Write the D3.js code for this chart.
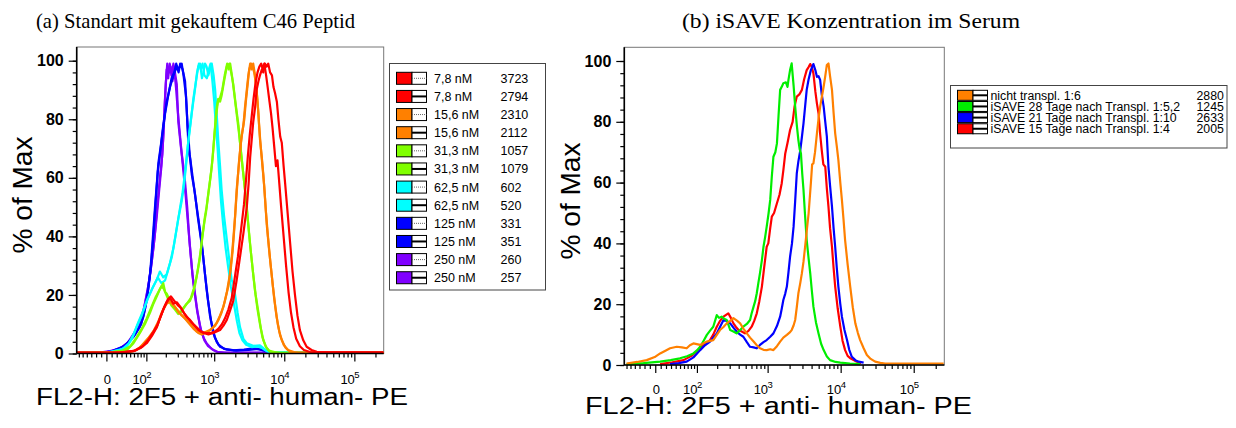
<!DOCTYPE html>
<html lang="en">
<head>
<meta charset="utf-8">
<title>FL2-H Histogramme</title>
<script src="https://cdn.jsdelivr.net/npm/d3@7"></script>
<style>
body { margin: 0; background: white; }
svg text { font-family: Arial, "Liberation Sans", sans-serif; fill: black; }
svg text.title { font-family: "Liberation Serif", "DejaVu Serif", serif; }
</style>
</head>
<body>
<svg id="chart" width="1236" height="428"></svg>
<script>
// ---- data: x in histogram channels (0..1000 over the displayed range), y in % of Max ----
var yTicks = [0, 20, 40, 60, 80, 100];
var xMajor = [0, 100, 1000, 10000, 100000];
var xMajorLabel = ["0", "10", "10", "10", "10"];
var xMajorExp = ["", "2", "3", "4", "5"];
var xMinor = [-60, -50, -40, -30, -20, -10, 10, 20, 30, 40, 50, 60, 70, 80, 90,
  200, 300, 400, 500, 600, 700, 800, 900, 2000, 3000, 4000, 5000, 6000, 7000, 8000, 9000,
  20000, 30000, 40000, 50000, 60000, 70000, 80000, 90000, 200000];

// panel (a)
var namesA = ["7,8 nM", "7,8 nM", "15,6 nM", "15,6 nM", "31,3 nM", "31,3 nM",
  "62,5 nM", "62,5 nM", "125 nM", "125 nM", "250 nM", "250 nM"];
var mediansA = [3723, 2794, 2310, 2112, 1057, 1079, 602, 520, 331, 351, 260, 257];

var red78a = [[0,0.3],[140,0.4],[185,0.8],[210,2],[228,3.5],[245,6],[261,9],[271,12],[282,15],[293,17.5],[304,19],[315,17],[326,17.5],[337,16],[348,14],[358,12.5],[369,11.5],[380,10],[396,8],[413,7],[429,6.5],[445,7],[456,7.5],[467,8],[478,9.5],[489,11.5],[499,14.5],[510,18],[521,25],[532,33],[543,41],[554,50],[560,58],[565,67],[570,73],[575,79],[581,84],[586,90],[592,93],[597,95],[603,97],[608,96],[613,99],[619,98],[624,99],[630,96],[636,95],[641,91],[646,89],[652,86],[657,80],[663,74],[668,72],[674,64],[679,58],[687,48],[695,38],[703,28],[711,20],[719,13],[727,8],[738,4.5],[749,2.3],[765,1.2],[782,0.6],[820,0.4],[1000,0.4]];
var red78b = [[0,0.3],[150,0.4],[190,1],[215,2.5],[232,4.5],[250,7.5],[264,10],[275,13],[286,16],[297,18.5],[307,19.5],[318,18],[329,16.5],[340,15.5],[352,13.5],[363,12],[375,10.5],[390,9],[405,7.5],[420,7],[436,7],[450,7.5],[462,8.5],[473,10],[483,12],[494,15],[505,19],[515,26],[525,33],[535,42],[545,51],[552,60],[558,68],[564,75],[570,81],[576,87],[582,92],[589,96],[595,98],[601,99],[606,97],[611,99],[617,95],[622,91],[628,86],[633,82],[638,77],[644,70],[649,64],[654,66],[660,58],[666,50],[674,40],[682,30],[690,21],[698,14],[706,9],[715,5],[727,2.5],[740,1.2],[760,0.5],[1000,0.3]];
var orange156a = [[0,0.2],[120,0.3],[165,0.5],[185,0.8],[205,2],[228,4.6],[245,6.5],[261,9],[271,12],[282,15],[293,17],[304,17.7],[315,16.5],[326,15],[342,13],[358,11.5],[375,9.5],[391,7.5],[402,7],[413,7],[423,7.5],[434,8],[445,9],[456,10.5],[467,13],[478,16],[489,21],[499,27],[505,33],[510,39],[516,47],[521,56],[527,63],[532,69],[537,74],[543,78],[548,84],[554,90],[559,95],[565,99],[570,97],[575,99],[581,95],[586,90],[592,82],[597,73],[603,67],[608,61],[614,52],[619,44],[627,35],[635,27],[643,19],[651,12.5],[660,7.5],[668,4.6],[680,2],[695,0.6],[720,0.3],[1000,0.2]];
var orange156b = [[0,0.2],[130,0.3],[175,0.6],[195,1.2],[215,3],[235,5.5],[252,8],[266,11],[277,14],[288,16.5],[298,18],[310,17],[320,16],[333,14],[348,12.5],[364,10.5],[380,8.5],[396,7],[407,6.5],[418,7],[429,7.5],[440,8.5],[451,9.5],[462,11.5],[472,14],[483,18],[494,23],[502,29],[508,35],[513,42],[518,50],[524,59],[529,66],[535,72],[540,76],[546,80],[551,86],[557,92],[562,97],[568,99],[573,98],[578,96],[584,92],[589,86],[594,78],[600,70],[605,64],[611,57],[616,49],[623,40],[631,31],[639,23],[647,16],[655,10],[663,6],[674,3],[688,1.2],[710,0.4],[1000,0.2]];
var green313a = [[0,0.2],[100,0.3],[140,0.7],[163,1.1],[185,3.5],[206,7],[222,10],[239,14],[250,17],[261,19.5],[271,22],[282,24],[288,21],[293,20.5],[304,18],[315,16],[326,15],[337,14],[347,15.5],[358,17],[369,18],[377,20],[385,23],[394,28],[402,33],[408,39],[413,43],[418,47],[423,50],[429,55],[434,59],[440,64],[445,70],[451,78],[456,84],[461,87],[467,86],[472,88],[480,93],[489,98],[497,99],[503,96],[510,92],[518,85],[527,78],[532,72],[537,67],[543,61],[548,56],[554,50],[559,44],[567,35],[575,27],[583,20],[592,14],[600,8.5],[608,4.6],[618,2],[630,0.6],[660,0.3],[1000,0.2]];
var green313b = [[0,0.2],[110,0.4],[150,1],[175,2.5],[195,5.5],[212,8.5],[228,12],[244,16],[256,19],[266,21],[276,23],[284,22],[296,19],[308,16.5],[320,15],[331,13.5],[342,14.5],[352,16],[362,17.5],[372,19],[381,22],[390,26],[398,31],[405,36],[411,41],[416,45],[421,48],[427,53],[432,57],[438,62],[443,67],[449,75],[454,81],[460,86],[466,87],[474,90],[482,95],[490,99],[495,97],[500,99],[507,94],[514,88],[522,81],[530,74],[535,69],[541,63],[546,58],[552,52],[557,46],[564,38],[572,30],[580,22],[589,15],[597,10],[605,5.5],[615,2.5],[626,1],[650,0.3],[1000,0.2]];
var cyan625a = [[0,0.2],[100,0.4],[140,1.2],[163,2.3],[180,5],[195,9],[212,13],[228,18],[245,22],[260,25],[271,28],[282,26],[293,27],[304,31],[315,36],[326,43],[337,50],[345,55],[353,62],[358,67],[364,73],[372,80],[380,87],[390,94],[396,98],[402,99],[408,94],[413,96],[418,99],[423,98],[429,95],[434,97],[440,99],[446,95],[451,90],[456,82],[461,73],[467,64],[472,56],[480,47],[489,39],[497,32],[505,25],[510,24],[516,20],[524,14],[532,9],[543,5],[554,3.5],[575,2.6],[597,2.8],[612,1.5],[630,0.3],[1000,0.2]];
var cyan625b = [[0,0.2],[110,0.5],[150,1.6],[170,3.5],[185,6.5],[200,10.5],[218,15],[233,19],[250,23],[264,26],[276,24],[288,25],[299,29],[310,33],[320,39],[331,46],[342,52],[350,58],[357,65],[362,71],[368,76],[376,83],[385,90],[392,96],[398,99],[404,97],[410,99],[416,95],[424,94],[430,97],[436,99],[442,93],[448,86],[453,78],[459,70],[465,60],[470,52],[477,44],[485,36],[494,29],[502,23],[512,17],[522,11],[530,7],[540,4.5],[552,3],[570,2.2],[590,2.4],[605,1.8],[622,0.6],[1000,0.2]];
var blue125a = [[0,0.2],[80,0.3],[109,0.6],[150,2],[185,5.7],[205,9],[217,12.5],[228,18],[239,27],[247,38],[255,50],[261,58],[266,65],[274,71],[282,78],[293,86],[304,91],[315,95],[326,98],[332,96],[337,99],[345,97],[353,93],[358,84],[364,71],[370,66],[375,61],[383,56],[391,50],[399,44],[407,38],[415,30],[423,22],[434,13],[445,7],[456,4],[467,2.3],[490,1.3],[510,1.1],[545,1.3],[575,1.8],[597,1.4],[620,0.8],[641,0.2],[1000,0.2]];
var blue125b = [[0,0.2],[95,0.4],[120,0.9],[160,2.8],[190,6.5],[210,10],[222,15],[233,22],[243,31],[251,42],[258,53],[264,62],[270,67],[278,74],[288,82],[298,88],[309,94],[318,96],[324,99],[330,97],[342,99],[348,95],[356,88],[361,78],[368,68],[378,60],[386,54],[394,47],[402,41],[410,35],[418,27],[428,18],[438,11],[450,5.5],[462,3],[480,1.6],[520,1],[560,1.2],[590,1.6],[612,1],[635,0.3],[1000,0.2]];
var purple250a = [[0,0.3],[80,0.4],[109,0.8],[140,1.6],[165,3.5],[185,6.5],[205,10],[217,14],[230,21],[239,27],[250,36],[261,47],[268,55],[276,64],[282,74],[287,86],[293,97],[298,94],[303,99],[309,95],[315,99],[320,96],[326,92],[331,79],[340,70],[351,61],[360,50],[367,39],[377,27],[391,16],[402,9],[413,5.5],[423,3.5],[440,1.5],[456,0.6],[480,0.3],[1000,0.2]];
var purple250b = [[0,0.2],[90,0.3],[115,0.9],[145,2],[170,4],[190,7.5],[208,11],[220,16],[233,23],[243,30],[254,40],[263,51],[271,60],[279,68],[285,80],[290,92],[295,99],[301,96],[306,98],[312,93],[318,97],[324,90],[330,82],[336,75],[344,66],[354,55],[362,45],[370,35],[380,24],[393,14],[405,8],[416,4.5],[428,2.5],[445,1.2],[460,0.5],[490,0.2],[1000,0.2]];

var curvesA = [red78a, red78b, orange156a, orange156b, green313a, green313b,
  cyan625a, cyan625b, blue125a, blue125b, purple250a, purple250b];

// panel (b)
var namesB = ["nicht transpl. 1:6", "iSAVE 28 Tage nach Transpl. 1:5,2",
  "iSAVE 21 Tage nach Transpl. 1:10", "iSAVE 15 Tage nach Transpl. 1:4"];
var mediansB = [2880, 1245, 2633, 2005];

var nichtTranspl = [[7,0.5],[40,1],[70,1.6],[95,2.6],[112,3.8],[130,4.8],[143,5.5],[164,6],[180,5.8],[195,5.5],[205,6.5],[216,7.1],[237,6.6],[258,7.7],[278,8.2],[299,11.5],[310,12.5],[320,13.7],[331,14.5],[341,15.4],[352,14.6],[362,13.7],[372,12],[383,10.4],[393,9],[404,7.7],[414,6.5],[424,5.5],[435,5],[445,4.9],[456,5.2],[466,4.9],[477,6.2],[487,7.7],[497,9],[508,9.9],[518,10.8],[523,11.5],[529,13],[534,14.8],[539,19],[544,23.6],[550,27],[555,30.2],[560,34],[565,38.9],[570,44],[576,49.9],[583,59.8],[587,66],[591,66.3],[596,70],[602,76.2],[607,81],[612,85],[617,88],[623,91.6],[628,95],[633,98.7],[638,99.2],[643,95],[649,90.5],[654,83],[659,76.2],[664,72],[669,67.4],[675,60],[680,54.3],[685,48],[690,41.1],[698,33],[706,25.8],[714,19],[722,13.7],[730,10.5],[737,8.2],[748,5.5],[758,3.3],[770,2],[784,1.1],[800,0.7],[815,0.5],[998,0.5]];
var isave28 = [[7,0.3],[60,0.6],[112,1.1],[145,1.6],[174,2.2],[196,2.9],[216,3.8],[227,4.8],[237,6],[248,8],[258,9.9],[268,11.3],[278,12.6],[289,16.4],[296,15.5],[304,15.9],[312,15.2],[320,14.8],[326,13],[331,11.5],[341,11],[351,10.4],[362,11.5],[372,12.6],[383,13.5],[393,14.8],[398,17],[404,19.2],[409,21],[414,23.6],[419,27],[424,30.2],[430,34.5],[435,38.9],[440,42],[445,45.5],[451,50],[456,54.3],[461,62],[466,68.5],[472,70],[477,72.9],[482,82],[487,90.5],[492,91.5],[497,92.7],[505,93],[510,91.5],[513,93.8],[518,97],[523,99.2],[529,92],[534,85],[539,79],[544,74],[548,71],[552,69.6],[556,63],[560,57.6],[565,49],[570,41.1],[576,35],[581,30.2],[586,24.5],[591,19.2],[599,14],[607,10.4],[615,7],[623,4.9],[633,2.8],[643,1.6],[660,1],[675,0.8],[705,0.5],[737,0.3]];
var isave21 = [[143,0.3],[170,0.6],[195,1.1],[216,2.5],[237,4.9],[252,6.5],[268,7.7],[278,9],[289,10.4],[299,12.5],[310,14.8],[320,14.5],[331,13.7],[341,12.3],[351,11],[362,10],[372,9.3],[383,7.5],[393,6],[404,5.8],[414,5.5],[424,6.6],[435,7.5],[445,8.2],[456,9.3],[466,10.4],[477,12.8],[487,15.9],[492,18.5],[497,21.4],[503,23.5],[508,25.8],[513,30.5],[518,35.6],[524,40],[529,45.5],[534,54],[539,63],[544,67],[550,70.7],[555,75],[560,79.5],[565,85],[570,90.5],[576,94],[583,97],[587,98],[591,99],[597,97],[602,94.8],[607,95],[612,93.8],[617,89],[623,85],[628,80],[633,75.1],[638,65.2],[643,59],[649,52.1],[654,45],[659,38.9],[664,32],[669,25.8],[675,20],[680,15.9],[688,11.5],[696,8.2],[703,5],[711,2.7],[722,1.6],[732,1.1],[748,0.8]];
var isave15 = [[112,0.3],[150,0.9],[185,1.6],[210,3],[237,5.5],[252,6.8],[268,8.2],[278,10],[289,12.6],[299,14.5],[310,15.9],[318,16.5],[325,17],[333,15.5],[341,13.7],[349,12.5],[357,11.5],[367,11],[377,10.4],[388,11.2],[398,12.6],[406,14.5],[414,17],[422,21],[430,25.8],[437,32],[445,38.9],[450,40],[456,45],[461,48.8],[468,50],[477,53.2],[485,56],[492,59.8],[497,64],[503,69.6],[510,73],[518,77.3],[526,80],[532,85],[539,88.3],[547,89],[555,90.5],[562,94],[570,97],[576,98],[581,99],[586,98],[591,95.9],[597,90],[602,86],[607,82.8],[612,76],[617,70.7],[622,66],[628,65.2],[633,58],[638,52.1],[643,45],[649,38.9],[654,32],[659,25.8],[667,18.5],[675,12.6],[682,8],[690,4.9],[698,3],[706,2.2],[727,1.1],[740,0.6]];

var curvesB = [nichtTranspl, isave28, isave21, isave15];

// ---- styles ----
var colorsA = ["#ff0000", "#ff0000", "#ff8000", "#ff8000", "#80ff00", "#80ff00",
  "#00ffff", "#00ffff", "#0000ff", "#0000ff", "#8000ff", "#8000ff"];
var dottedA = [true, false, true, false, true, false, true, false, true, false, true, false];
var colorsB = ["#ff8000", "#00ee00", "#0000ff", "#ff0000"];

// biexponential (asinh) display transform -> channel 0..1000
var W = 58, xMin = -66, xMax = 262144;
function biex(v) { return Math.asinh(v / W) / Math.LN10; }
var chan = d3.scaleLinear().domain([biex(xMin), biex(xMax)]).range([0, 1000]);
function channel(v) { return chan(biex(v)); }

var svg = d3.select("#chart");
svg.append("rect").attr("width", 1236).attr("height", 428).attr("fill", "white");

function drawPanel(p) {
  var x = d3.scaleLinear().domain([0, 1000]).range([p.left, p.right]);
  var y = d3.scaleLinear().domain([0, 100]).range([p.bottom, p.y100]);
  var g = svg.append("g");

  // frame
  g.append("rect").attr("x", p.left).attr("y", p.top)
    .attr("width", p.right - p.left).attr("height", p.bottom - p.top)
    .attr("fill", "none").attr("stroke", "#777").attr("stroke-width", 1);

  // curves
  g.append("clipPath").attr("id", "clip" + p.id).append("rect")
    .attr("x", p.left).attr("y", p.top).attr("width", p.right - p.left).attr("height", p.bottom - p.top + 2);
  var line = d3.line().x(function(d) { return x(d[0]); }).y(function(d) { return y(d[1]); });
  var order = d3.range(p.curves.length).reverse();
  g.append("g").attr("clip-path", "url(#clip" + p.id + ")")
    .selectAll("path").data(order).enter().append("path")
    .attr("d", function(i) { return line(p.curves[i]); })
    .attr("fill", "none")
    .attr("stroke", function(i) { return p.colors[i]; })
    .attr("stroke-width", 2.2)
    .attr("stroke-linejoin", "round");

  // y axis
  var yMinor = g.append("g").attr("transform", "translate(" + p.left + ",0)")
    .call(d3.axisLeft(y).tickValues(d3.range(0, 101, 4)).tickSize(4).tickFormat(""));
  var yAxis = g.append("g").attr("transform", "translate(" + p.left + ",0)")
    .call(d3.axisLeft(y).tickValues(yTicks).tickSize(8).tickPadding(5));
  yAxis.selectAll("text").attr("font-size", 16).attr("font-weight", "bold")
    .attr("font-family", "Arial, 'Liberation Sans', sans-serif").attr("fill", "black");

  // x axis
  var xMinorAx = g.append("g").attr("transform", "translate(0," + p.bottom + ")")
    .call(d3.axisBottom(x).tickValues(xMinor.map(channel)).tickSize(4).tickFormat(""));
  var xAxis = g.append("g").attr("transform", "translate(0," + p.bottom + ")")
    .call(d3.axisBottom(x).tickValues(xMajor.map(channel)).tickSize(8).tickFormat(""));
  [yMinor, yAxis, xMinorAx, xAxis].forEach(function(a) {
    a.select(".domain").remove();
    a.selectAll("line").attr("stroke", "black").attr("stroke-width", 1.2);
  });

  // axis lines
  g.append("line").attr("x1", p.left).attr("x2", p.left).attr("y1", p.top).attr("y2", p.bottom)
    .attr("stroke", "black").attr("stroke-width", 1.6);
  g.append("line").attr("x1", p.left).attr("x2", p.right).attr("y1", p.bottom).attr("y2", p.bottom)
    .attr("stroke", "black").attr("stroke-width", 1.6);

  // x tick labels (10 with superscript)
  xMajor.forEach(function(v, i) {
    var px = x(channel(v));
    if (xMajorExp[i] === "") {
      g.append("text").attr("x", px + 1).attr("y", p.bottom + p.labelDy)
        .attr("text-anchor", "middle").attr("font-size", 13).text(xMajorLabel[i]);
    } else {
      g.append("text").attr("x", px + 0.5).attr("y", p.bottom + p.labelDy)
        .attr("text-anchor", "end").attr("font-size", 13).text(xMajorLabel[i]);
      g.append("text").attr("x", px).attr("y", p.bottom + p.labelDy - 6)
        .attr("font-size", 9.5).text(xMajorExp[i]);
    }
  });

  // axis titles
  g.append("text").attr("transform", "translate(" + p.yLabelX + "," + p.yLabelY + ") rotate(-90)")
    .attr("text-anchor", "middle").attr("font-size", 28)
    .attr("textLength", 117).attr("lengthAdjust", "spacingAndGlyphs").text("% of Max");
  g.append("text").attr("x", p.xTitleX).attr("y", p.xTitleY).attr("text-anchor", "middle")
    .attr("font-size", 23).attr("textLength", p.xTitleLen).attr("lengthAdjust", "spacingAndGlyphs")
    .text("FL2-H: 2F5 + anti- human- PE");

  // panel title
  g.append("text").attr("class", "title").attr("x", p.titleX).attr("y", 28)
    .attr("font-size", 22).attr("textLength", p.titleLen).attr("lengthAdjust", "spacingAndGlyphs")
    .text(p.title);

  // legend
  var L = p.legend;
  g.append("rect").attr("x", L.x).attr("y", L.y).attr("width", L.w).attr("height", L.h)
    .attr("fill", "white").attr("stroke", "#444").attr("stroke-width", 1);
  var rows = g.selectAll(".row" + p.id).data(p.names).enter().append("g")
    .attr("transform", function(d, i) { return "translate(0," + (L.row0 + i * L.step) + ")"; });
  rows.append("rect").attr("x", L.x + 7).attr("y", -L.sw / 2).attr("width", 15.5).attr("height", L.sw)
    .attr("fill", function(d, i) { return p.colors[i]; }).attr("stroke", "black").attr("stroke-width", 1);
  rows.append("rect").attr("x", L.x + 22.5).attr("y", -L.sw / 2).attr("width", 14.5).attr("height", L.sw)
    .attr("fill", "white").attr("stroke", "black").attr("stroke-width", 1);
  rows.append("line").attr("x1", L.x + 22.5).attr("x2", L.x + 37).attr("y1", 0).attr("y2", 0)
    .attr("stroke", function(d, i) { return p.dotted[i] ? "#666" : "black"; })
    .attr("stroke-width", function(d, i) { return p.dotted[i] ? 1 : 2; })
    .attr("stroke-dasharray", function(d, i) { return p.dotted[i] ? "1,1" : null; });
  rows.append("text").attr("x", L.textX).attr("y", L.fs * 0.36).attr("font-size", L.fs).text(function(d) { return d; });
  rows.append("text").attr("x", L.numX).attr("y", L.fs * 0.36).attr("font-size", L.fs)
    .text(function(d, i) { return p.medians[i]; });
}

drawPanel({
  id: "a", left: 76.7, right: 383.7, top: 47, bottom: 353.5, y100: 60.7,
  curves: curvesA, colors: colorsA, dotted: dottedA, names: namesA, medians: mediansA,
  labelDy: 30.5, yLabelX: 32, yLabelY: 195, xTitleX: 222, xTitleY: 405, xTitleLen: 372,
  title: "(a) Standart mit gekauftem C46 Peptid", titleX: 36, titleLen: 319,
  legend: { x: 389.5, y: 63.5, w: 156, h: 226.5, row0: 78.3, step: 18.13, sw: 12,
    textX: 434, numX: 500.5, fs: 12.5 }
});

drawPanel({
  id: "b", left: 624.3, right: 944.3, top: 47.3, bottom: 365, y100: 61,
  curves: curvesB, colors: colorsB, dotted: [false, false, false, false], names: namesB, medians: mediansB,
  labelDy: 29, yLabelX: 580, yLabelY: 201, xTitleX: 778.5, xTitleY: 414, xTitleLen: 387,
  title: "(b) iSAVE Konzentration im Serum", titleX: 682, titleLen: 338,
  legend: { x: 950.5, y: 85.5, w: 276.5, h: 62.5, row0: 95.3, step: 11.15, sw: 10,
    textX: 990.5, numX: 1196.5, fs: 12.3 }
});
</script>
</body>
</html>
